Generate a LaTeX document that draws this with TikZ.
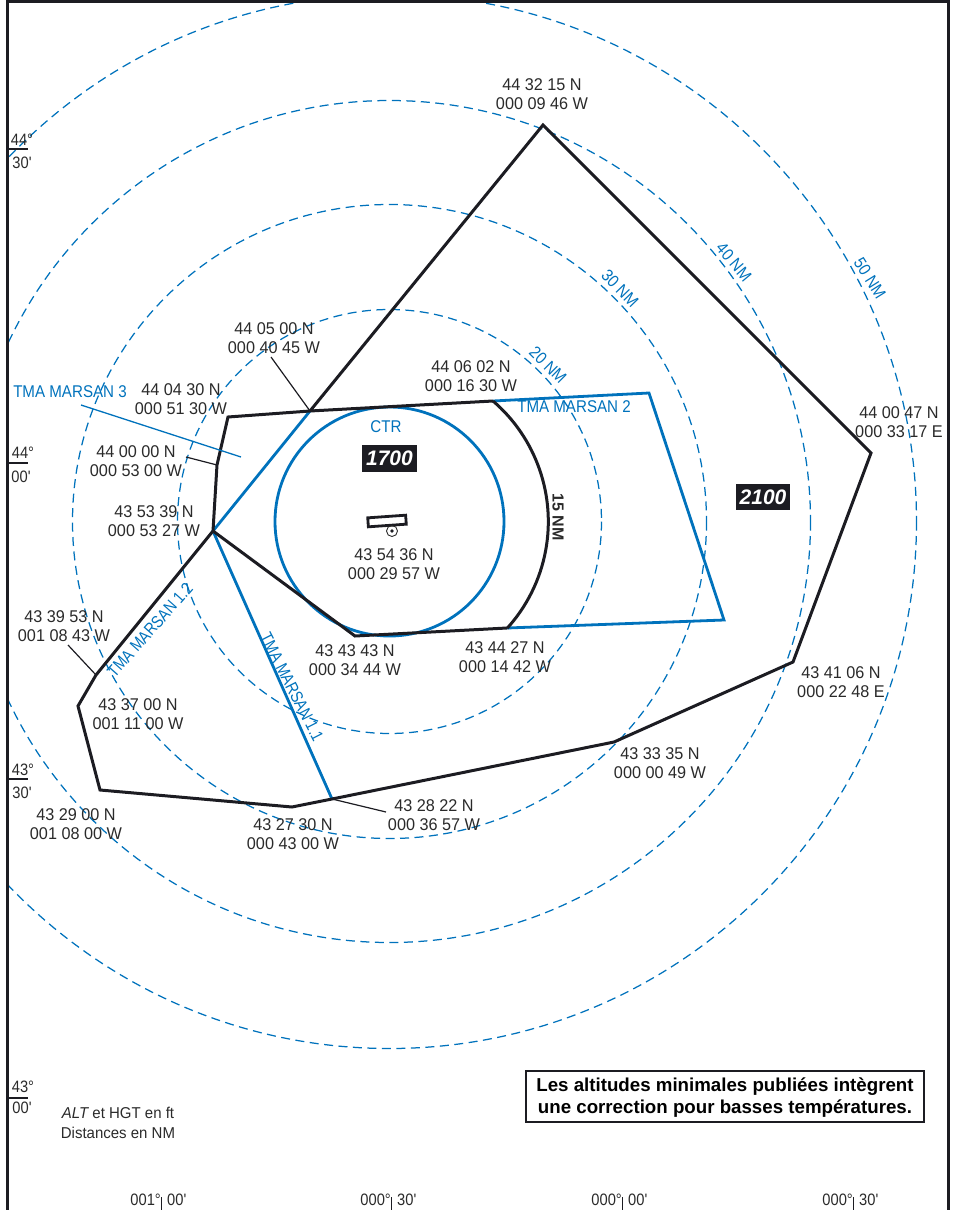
\documentclass[tikz,border=0pt]{standalone}
\usepackage{fontspec}
\setmainfont{Liberation Sans}
\newfontfamily\narrowfont[FakeStretch=0.955]{Liberation Sans}
\newfontfamily\bluefont[FakeStretch=0.89]{Liberation Sans}
\newfontfamily\slimfont[FakeStretch=0.84]{Liberation Sans}
\definecolor{chartblue}{HTML}{0072BC}
\definecolor{chartblack}{HTML}{1C1C22}
\definecolor{charttext}{HTML}{2A2A2A}
\tikzset{
  coordlabel/.style={font=\narrowfont\fontsize{17}{19}\selectfont,text=charttext,align=center,inner sep=0pt},
  bluelabel/.style={font=\bluefont\fontsize{17}{19}\selectfont,text=chartblue,inner sep=0pt},
  slimlabel/.style={font=\slimfont\fontsize{17}{19}\selectfont,text=chartblue,inner sep=0pt},
  blacklabel/.style={font=\bluefont\fontsize{16.5}{19}\selectfont,text=charttext,inner sep=0pt},
  ring/.style={draw=chartblue,line width=1.25pt,dash pattern=on 9pt off 5.5pt},
  limit/.style={draw=chartblack,line width=3pt,line join=miter},
  bluelimit/.style={draw=chartblue,line width=2.8pt,line join=miter},
  leader/.style={draw=chartblack,line width=1.2pt},
  altbox/.style={fill=chartblack,text=white,font=\bfseries\itshape\fontsize{21}{21}\selectfont,inner sep=0pt},
}
\begin{document}
\begin{tikzpicture}[x=1pt,y=-1pt]
\useasboundingbox (0,0) rectangle (955,1210);
\coordinate (C) at (389.5,521.5);
\coordinate (N) at (543,125);
\coordinate (E) at (871,453);
\coordinate (SE) at (793,662);
\coordinate (S1) at (614,742);
\coordinate (S2) at (332,799);
\coordinate (S3) at (292,807);
\coordinate (SW) at (100,790);
\coordinate (W1) at (78,706);
\coordinate (W2) at (96,675);
\coordinate (W3) at (213,531);
\coordinate (W4) at (217,465);
\coordinate (NW) at (228,417);
\coordinate (T1) at (310,411);
\coordinate (T2) at (493,401);
\coordinate (T3) at (649,393);
\coordinate (T4) at (724,620);
\coordinate (T5) at (507,628);
\coordinate (T6) at (355,636);
\begin{scope}
\clip (7,0) rectangle (948,1210);
\draw[ring] (C) circle[radius=212];
\draw[ring] (C) circle[radius=317];
\draw[ring] (C) circle[radius=421];
\draw[ring] (C) circle[radius=527];
\end{scope}
\draw[draw=chartblack,line width=3pt] (7,1210) -- (7,1.5) -- (948,1.5) -- (948,1210);
\draw[bluelimit] (T2) -- (T3) -- (T4) -- (T5);
\draw[bluelimit] (T1) -- (W3) -- (S2);
\draw[bluelimit] (C) circle[radius=114.5];
\draw[limit] (T1) -- (N) -- (E) -- (SE) -- (S1) -- (S2) -- (S3) -- (SW) -- (W1) -- (W2) -- (W3) -- (W4) -- (NW) -- (T1) -- (T2);
\draw[limit] (W3) -- (T6) -- (T5);
\draw[limit] (T2) arc[start angle=-49.3,end angle=42.2,radius=159];
% leaders
\coordinate (L1) at (271,357);
\coordinate (L2) at (186,457);
\coordinate (L3) at (68,645);
\coordinate (L4) at (386,812);
\coordinate (L5) at (81,405);
\coordinate (L6) at (241,457);
\draw[leader] (L1) -- (T1);
\draw[leader] (L2) -- (W4);
\draw[leader] (L3) -- (W2);
\draw[leader] (L4) -- (S2);
\draw[draw=chartblue,line width=1.3pt] (L5) -- (L6);
% coordinates
\node[coordlabel] (a1) at (542,94) {44 32 15 N\\000 09 46 W};
\node[coordlabel] (a2) at (274,338) {44 05 00 N\\000 40 45 W};
\node[coordlabel] (a3) at (471,376) {44 06 02 N\\000 16 30 W};
\node[coordlabel] (a4) at (181,399) {44 04 30 N\\000 51 30 W};
\node[coordlabel] (a5) at (136,461) {44 00 00 N\\000 53 00 W};
\node[coordlabel] (a6) at (154,521) {43 53 39 N\\000 53 27 W};
\node[coordlabel] (a7) at (394,564) {43 54 36 N\\000 29 57 W};
\node[coordlabel] (a8) at (64,626) {43 39 53 N\\001 08 43 W};
\node[coordlabel] (a9) at (355,660) {43 43 43 N\\000 34 44 W};
\node[coordlabel] (a10) at (505,657) {43 44 27 N\\000 14 42 W};
\node[coordlabel] (a11) at (138,714) {43 37 00 N\\001 11 00 W};
\node[coordlabel] (a12) at (76,824) {43 29 00 N\\001 08 00 W};
\node[coordlabel] (a13) at (293,834) {43 27 30 N\\000 43 00 W};
\node[coordlabel] (a14) at (434,815) {43 28 22 N\\000 36 57 W};
\node[coordlabel] (a15) at (660,763) {43 33 35 N\\000 00 49 W};
\node[coordlabel] (a16) at (841,682) {43 41 06 N\\000 22 48 E};
\node[coordlabel] (a17) at (899,422) {44 00 47 N\\000 33 17 E};
% blue labels
\node[bluelabel] (b1) at (70,392) {TMA MARSAN 3};
\node[bluelabel] (b2) at (574,407) {TMA MARSAN 2};
\node[slimlabel,rotate=48.5] (b3) at (150,630) {TMA MARSAN 1.2};
\node[slimlabel,rotate=-63] (b4) at (292,687) {TMA MARSAN 1.1};
\node[bluelabel] (b5) at (386,427) {CTR};
\node[bluelabel,rotate=-45] (b6) at (548,365) {20 NM};
\node[bluelabel,rotate=-46] (b7) at (620,288) {30 NM};
\node[bluelabel,rotate=-50] (b8) at (734,262) {40 NM};
\node[bluelabel,rotate=-58] (b9) at (870,278) {50 NM};
\node[font=\bfseries\fontsize{16}{16}\selectfont,text=charttext,rotate=-90,inner sep=0pt] (b10) at (558,517) {15 NM};
% altitude boxes
\node[altbox,minimum width=55pt,minimum height=27pt] (h1) at (389.5,458.5) {1700};
\node[altbox,minimum width=54pt,minimum height=26pt] (h2) at (763,497) {2100};
% runway and reference point
\node[draw=chartblack,fill=white,line width=2.8pt,minimum width=38pt,minimum height=9pt,inner sep=0pt,rotate=4] (rwy) at (387,521) {};
\node[draw=charttext,line width=.9pt,circle,minimum size=11pt,inner sep=0pt] (arp) at (392,531) {};
\fill[chartblack] (arp.center) circle[radius=1.8];
% latitude marks
\coordinate (m1) at (7,149);\coordinate (m1e) at (28,149);
\coordinate (m2) at (7,463);\coordinate (m2e) at (28,463);
\coordinate (m3) at (7,779);\coordinate (m3e) at (28,779);
\coordinate (m4) at (7,1098);\coordinate (m4e) at (28,1098);
\draw[leader] (m1) -- (m1e); \draw[leader] (m2) -- (m2e);
\draw[leader] (m3) -- (m3e); \draw[leader] (m4) -- (m4e);
\node[blacklabel] (g1) at (22,140) {44°};
\node[blacklabel] (g1b) at (22,163) {30'};
\node[blacklabel] (g2) at (23,453) {44°};
\node[blacklabel] (g2b) at (21,477) {00'};
\node[blacklabel] (g3) at (23,770) {43°};
\node[blacklabel] (g3b) at (22,793) {30'};
\node[blacklabel] (g4) at (23,1087) {43°};
\node[blacklabel] (g4b) at (22,1108) {00'};
% longitude marks
\foreach \nm/\tx/\wl/\el in {t1/161/001°/00',t2/391/000°/30',t3/622/000°/00',t4/853/000°/30'}{
  \coordinate (\nm a) at (\tx,1197);
  \coordinate (\nm b) at (\tx,1210);
  \draw[draw=chartblack,line width=1pt] (\nm a) -- (\nm b);
  \node[blacklabel,anchor=east] (\nm w) at (\tx,1200) {\wl};
  \node[blacklabel,anchor=west] (\nm e) at (\tx+6,1200) {\el};
}
\node[coordlabel,font=\narrowfont\fontsize{15.7}{20}\selectfont] (leg) at (118,1123) {{\itshape ALT} et HGT en ft\\Distances en NM};
\node[draw=chartblack,line width=2pt,fill=white,minimum width=398pt,minimum height=51pt,inner sep=0pt] (note) at (725,1096.5) {};
\node[inner sep=0pt,align=center,text=black,font=\bfseries\fontsize{18.7}{22}\selectfont] (notetext) at (725,1098) {Les altitudes minimales publiées intègrent\\une correction pour basses températures.};
\end{tikzpicture}
\end{document}
